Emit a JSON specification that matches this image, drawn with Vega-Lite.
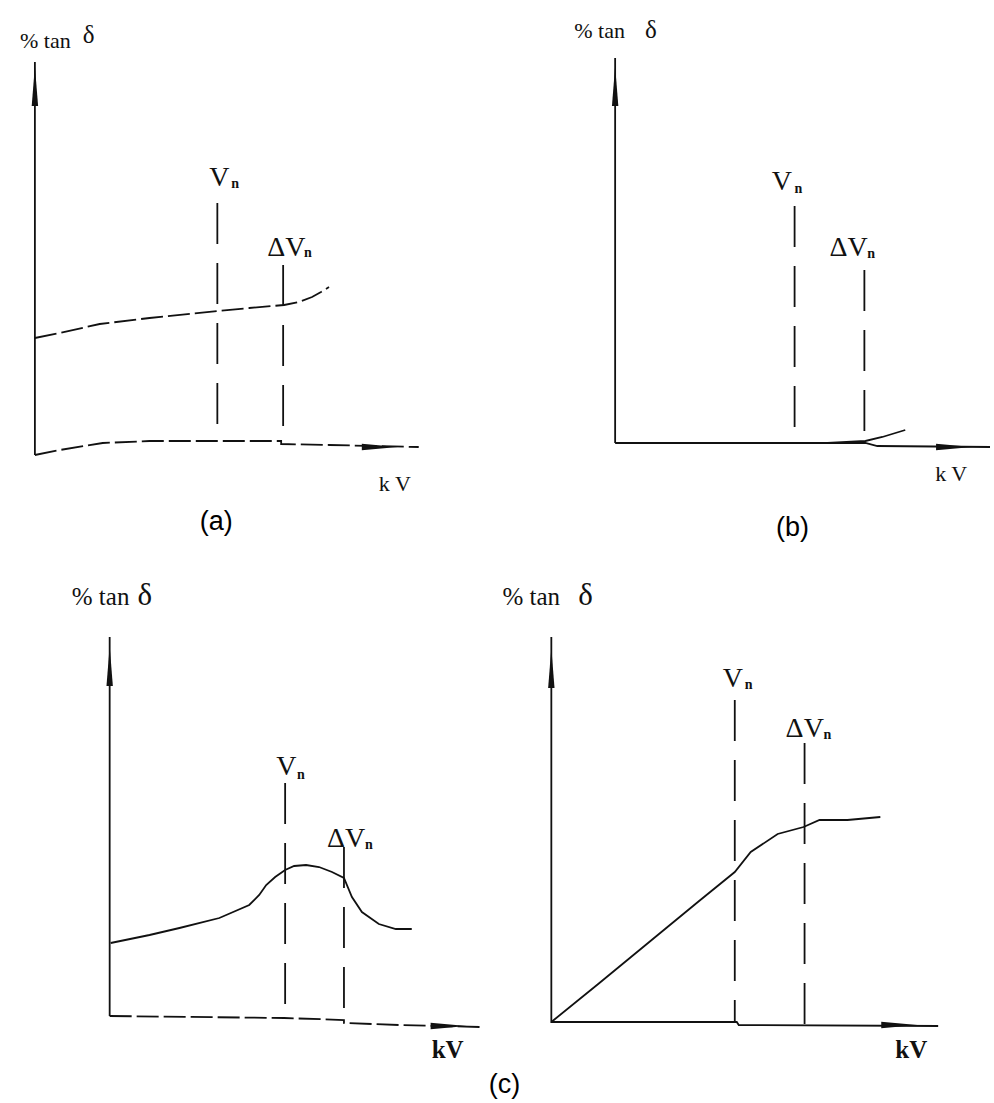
{
  "$schema": "https://vega.github.io/schema/vega-lite/v6.json",
  "width": 994,
  "height": 1103,
  "padding": 0,
  "autosize": {"type": "fit", "contains": "padding"},
  "background": "white",
  "config": {"view": {"stroke": null}},
  "datasets": {
    "paths": [
      {"id": "a-y", "o": 0, "x": 35, "y": 62},
      {"id": "a-y", "o": 1, "x": 35, "y": 455},
      {"id": "a-x", "o": 0, "x": 35, "y": 455},
      {"id": "a-x", "o": 1, "x": 60, "y": 450},
      {"id": "a-x", "o": 2, "x": 103, "y": 443},
      {"id": "a-x", "o": 3, "x": 150, "y": 441},
      {"id": "a-x", "o": 4, "x": 217, "y": 441},
      {"id": "a-x", "o": 5, "x": 282, "y": 441},
      {"id": "a-x", "o": 6, "x": 282, "y": 444},
      {"id": "a-x", "o": 7, "x": 330, "y": 445},
      {"id": "a-x", "o": 8, "x": 420, "y": 447},
      {"id": "a-c", "o": 0, "x": 35, "y": 338},
      {"id": "a-c", "o": 1, "x": 60, "y": 333},
      {"id": "a-c", "o": 2, "x": 100, "y": 324},
      {"id": "a-c", "o": 3, "x": 150, "y": 318},
      {"id": "a-c", "o": 4, "x": 218, "y": 311},
      {"id": "a-c", "o": 5, "x": 250, "y": 308},
      {"id": "a-c", "o": 6, "x": 285, "y": 305},
      {"id": "a-c", "o": 7, "x": 300, "y": 302},
      {"id": "a-c", "o": 8, "x": 313, "y": 297},
      {"id": "a-c", "o": 9, "x": 322, "y": 292},
      {"id": "a-c", "o": 10, "x": 330, "y": 287},
      {"id": "b-y", "o": 0, "x": 617, "y": 58},
      {"id": "b-y", "o": 1, "x": 617, "y": 443},
      {"id": "b-x", "o": 0, "x": 617, "y": 443},
      {"id": "b-x", "o": 1, "x": 868, "y": 443},
      {"id": "b-x", "o": 2, "x": 880, "y": 446},
      {"id": "b-x", "o": 3, "x": 993, "y": 447},
      {"id": "b-c", "o": 0, "x": 830, "y": 443},
      {"id": "b-c", "o": 1, "x": 868, "y": 441},
      {"id": "b-c", "o": 2, "x": 885, "y": 437},
      {"id": "b-c", "o": 3, "x": 908, "y": 430},
      {"id": "cL-y", "o": 0, "x": 110, "y": 637},
      {"id": "cL-y", "o": 1, "x": 110, "y": 1016},
      {"id": "cL-x", "o": 0, "x": 110, "y": 1016},
      {"id": "cL-x", "o": 1, "x": 285, "y": 1018},
      {"id": "cL-x", "o": 2, "x": 345, "y": 1020},
      {"id": "cL-x", "o": 3, "x": 345, "y": 1023},
      {"id": "cL-x", "o": 4, "x": 400, "y": 1025},
      {"id": "cL-x", "o": 5, "x": 481, "y": 1027},
      {"id": "cL-c", "o": 0, "x": 111, "y": 943},
      {"id": "cL-c", "o": 1, "x": 150, "y": 935},
      {"id": "cL-c", "o": 2, "x": 180, "y": 928},
      {"id": "cL-c", "o": 3, "x": 220, "y": 918},
      {"id": "cL-c", "o": 4, "x": 250, "y": 905},
      {"id": "cL-c", "o": 5, "x": 260, "y": 895},
      {"id": "cL-c", "o": 6, "x": 267, "y": 885},
      {"id": "cL-c", "o": 7, "x": 276, "y": 877},
      {"id": "cL-c", "o": 8, "x": 286, "y": 870},
      {"id": "cL-c", "o": 9, "x": 295, "y": 866},
      {"id": "cL-c", "o": 10, "x": 307, "y": 865},
      {"id": "cL-c", "o": 11, "x": 320, "y": 867},
      {"id": "cL-c", "o": 12, "x": 333, "y": 872},
      {"id": "cL-c", "o": 13, "x": 345, "y": 878},
      {"id": "cL-c", "o": 14, "x": 353, "y": 897},
      {"id": "cL-c", "o": 15, "x": 363, "y": 912},
      {"id": "cL-c", "o": 16, "x": 380, "y": 924},
      {"id": "cL-c", "o": 17, "x": 397, "y": 929},
      {"id": "cL-c", "o": 18, "x": 413, "y": 929},
      {"id": "cR-y", "o": 0, "x": 553, "y": 637},
      {"id": "cR-y", "o": 1, "x": 553, "y": 1023},
      {"id": "cR-x", "o": 0, "x": 553, "y": 1022},
      {"id": "cR-x", "o": 1, "x": 739, "y": 1022},
      {"id": "cR-x", "o": 2, "x": 741, "y": 1025},
      {"id": "cR-x", "o": 3, "x": 941, "y": 1026},
      {"id": "cR-c", "o": 0, "x": 553, "y": 1022},
      {"id": "cR-c", "o": 1, "x": 600, "y": 984},
      {"id": "cR-c", "o": 2, "x": 650, "y": 943},
      {"id": "cR-c", "o": 3, "x": 700, "y": 902},
      {"id": "cR-c", "o": 4, "x": 737, "y": 872},
      {"id": "cR-c", "o": 5, "x": 753, "y": 852},
      {"id": "cR-c", "o": 6, "x": 780, "y": 834},
      {"id": "cR-c", "o": 7, "x": 806, "y": 827},
      {"id": "cR-c", "o": 8, "x": 822, "y": 820},
      {"id": "cR-c", "o": 9, "x": 850, "y": 820},
      {"id": "cR-c", "o": 10, "x": 883, "y": 817}
    ],
    "refs": [
      {"panel": "a", "line": "Vn", "x": 218, "y1": 203, "y2": 441},
      {"panel": "a", "line": "ΔVn", "x": 284, "y1": 265, "y2": 442},
      {"panel": "b", "line": "Vn", "x": 797, "y1": 206, "y2": 443},
      {"panel": "b", "line": "ΔVn", "x": 867, "y1": 270, "y2": 443},
      {"panel": "cL", "line": "Vn", "x": 286, "y1": 783, "y2": 1018},
      {"panel": "cL", "line": "ΔVn", "x": 345, "y1": 847, "y2": 1020},
      {"panel": "cR", "line": "Vn", "x": 737, "y1": 700, "y2": 1023},
      {"panel": "cR", "line": "ΔVn", "x": 807, "y1": 743, "y2": 1025}
    ],
    "arrows": [
      {"panel": "a", "dir": "up", "x": 35, "y": 86},
      {"panel": "b", "dir": "up", "x": 617, "y": 86},
      {"panel": "cL", "dir": "up", "x": 110, "y": 666},
      {"panel": "cR", "dir": "up", "x": 553, "y": 668},
      {"panel": "a", "dir": "right", "x": 381, "y": 447},
      {"panel": "b", "dir": "right", "x": 957, "y": 447},
      {"panel": "cL", "dir": "right", "x": 450, "y": 1026},
      {"panel": "cR", "dir": "right", "x": 902, "y": 1025}
    ],
    "labels": [
      {"panel": "a", "kind": "ylab", "text": "% tan", "x": 20, "y": 48},
      {"panel": "a", "kind": "delta", "text": "δ", "x": 83, "y": 43},
      {"panel": "b", "kind": "ylab", "text": "% tan", "x": 576, "y": 38},
      {"panel": "b", "kind": "delta", "text": "δ", "x": 647, "y": 38},
      {"panel": "cL", "kind": "ylab", "text": "% tan", "x": 72, "y": 605},
      {"panel": "cL", "kind": "delta", "text": "δ", "x": 138, "y": 605},
      {"panel": "cR", "kind": "ylab", "text": "% tan", "x": 504, "y": 605},
      {"panel": "cR", "kind": "delta", "text": "δ", "x": 580, "y": 605},
      {"panel": "a", "kind": "V", "text": "V", "x": 210, "y": 186},
      {"panel": "a", "kind": "sub", "text": "n", "x": 232, "y": 188},
      {"panel": "a", "kind": "V", "text": "ΔV", "x": 268, "y": 256},
      {"panel": "a", "kind": "sub", "text": "n", "x": 305, "y": 257},
      {"panel": "b", "kind": "V", "text": "V", "x": 774, "y": 190},
      {"panel": "b", "kind": "sub", "text": "n", "x": 797, "y": 193},
      {"panel": "b", "kind": "V", "text": "ΔV", "x": 832, "y": 256},
      {"panel": "b", "kind": "sub", "text": "n", "x": 870, "y": 258},
      {"panel": "cL", "kind": "V", "text": "V", "x": 277, "y": 775},
      {"panel": "cL", "kind": "sub", "text": "n", "x": 298, "y": 779},
      {"panel": "cL", "kind": "V", "text": "ΔV", "x": 328, "y": 847},
      {"panel": "cL", "kind": "sub", "text": "n", "x": 366, "y": 849},
      {"panel": "cR", "kind": "V", "text": "V", "x": 725, "y": 687},
      {"panel": "cR", "kind": "sub", "text": "n", "x": 747, "y": 689},
      {"panel": "cR", "kind": "V", "text": "ΔV", "x": 788, "y": 737},
      {"panel": "cR", "kind": "sub", "text": "n", "x": 826, "y": 739},
      {"panel": "a", "kind": "kV", "text": "k V", "x": 380, "y": 491},
      {"panel": "b", "kind": "kV", "text": "k V", "x": 938, "y": 481},
      {"panel": "cL", "kind": "kVb", "text": "kV", "x": 433, "y": 1058},
      {"panel": "cR", "kind": "kVb", "text": "kV", "x": 898, "y": 1058},
      {"panel": "a", "kind": "panel", "text": "(a)", "x": 217, "y": 522},
      {"panel": "b", "kind": "panel", "text": "(b)", "x": 795, "y": 528},
      {"panel": "c", "kind": "panel", "text": "(c)", "x": 506, "y": 1085}
    ]
  },
  "layer": [
    {
      "data": {"name": "paths"},
      "transform": [{"filter": {"not": {"field": "id", "oneOf": ["a-x", "a-c", "cL-x"]}}}],
      "mark": {"type": "line", "color": "#111", "strokeWidth": 1.8},
      "encoding": {
        "x": {"field": "x", "type": "quantitative", "scale": {"domain": [0, 994], "nice": false, "zero": false}, "axis": null},
        "y": {"field": "y", "type": "quantitative", "scale": {"domain": [0, 1103], "nice": false, "zero": false, "reverse": true}, "axis": null},
        "detail": {"field": "id"},
        "order": {"field": "o", "type": "quantitative"}
      }
    },
    {
      "data": {"name": "paths"},
      "transform": [{"filter": {"field": "id", "oneOf": ["a-x", "a-c", "cL-x"]}}],
      "mark": {"type": "line", "color": "#111", "strokeWidth": 1.8, "strokeDash": [22, 5]},
      "encoding": {
        "x": {"field": "x", "type": "quantitative"},
        "y": {"field": "y", "type": "quantitative"},
        "detail": {"field": "id"},
        "order": {"field": "o", "type": "quantitative"}
      }
    },
    {
      "data": {"name": "refs"},
      "mark": {"type": "rule", "color": "#111", "strokeWidth": 1.8, "strokeDash": [41, 19]},
      "encoding": {
        "x": {"field": "x", "type": "quantitative"},
        "y": {"field": "y1", "type": "quantitative"},
        "y2": {"field": "y2"}
      }
    },
    {
      "data": {"name": "arrows"},
      "transform": [{"filter": {"field": "dir", "equal": "up"}}],
      "mark": {"type": "point", "filled": true, "color": "#111", "opacity": 1, "size": 1600, "shape": "M0,-1L0.16,1L-0.16,1Z"},
      "encoding": {
        "x": {"field": "x", "type": "quantitative"},
        "y": {"field": "y", "type": "quantitative"}
      }
    },
    {
      "data": {"name": "arrows"},
      "transform": [{"filter": {"field": "dir", "equal": "right"}}],
      "mark": {"type": "point", "filled": true, "color": "#111", "opacity": 1, "size": 1300, "shape": "M1,0L-1,-0.18L-1,0.18Z"},
      "encoding": {
        "x": {"field": "x", "type": "quantitative"},
        "y": {"field": "y", "type": "quantitative"}
      }
    },
    {
      "data": {"name": "labels"},
      "transform": [{"filter": {"and": [{"field": "kind", "equal": "ylab"}, {"field": "panel", "oneOf": ["a", "b"]}]}}],
      "mark": {"type": "text", "font": "Liberation Serif", "fontSize": 22, "color": "#111", "align": "left", "baseline": "alphabetic"},
      "encoding": {
        "x": {"field": "x", "type": "quantitative"},
        "y": {"field": "y", "type": "quantitative"},
        "text": {"field": "text"}
      }
    },
    {
      "data": {"name": "labels"},
      "transform": [{"filter": {"and": [{"field": "kind", "equal": "ylab"}, {"field": "panel", "oneOf": ["cL", "cR"]}]}}],
      "mark": {"type": "text", "font": "Liberation Serif", "fontSize": 25, "color": "#111", "align": "left", "baseline": "alphabetic"},
      "encoding": {
        "x": {"field": "x", "type": "quantitative"},
        "y": {"field": "y", "type": "quantitative"},
        "text": {"field": "text"}
      }
    },
    {
      "data": {"name": "labels"},
      "transform": [{"filter": {"and": [{"field": "kind", "equal": "delta"}, {"field": "panel", "oneOf": ["a", "b"]}]}}],
      "mark": {"type": "text", "font": "Liberation Serif", "fontSize": 25, "color": "#111", "align": "left", "baseline": "alphabetic"},
      "encoding": {
        "x": {"field": "x", "type": "quantitative"},
        "y": {"field": "y", "type": "quantitative"},
        "text": {"field": "text"}
      }
    },
    {
      "data": {"name": "labels"},
      "transform": [{"filter": {"and": [{"field": "kind", "equal": "delta"}, {"field": "panel", "oneOf": ["cL", "cR"]}]}}],
      "mark": {"type": "text", "font": "Liberation Serif", "fontSize": 31, "color": "#111", "align": "left", "baseline": "alphabetic"},
      "encoding": {
        "x": {"field": "x", "type": "quantitative"},
        "y": {"field": "y", "type": "quantitative"},
        "text": {"field": "text"}
      }
    },
    {
      "data": {"name": "labels"},
      "transform": [{"filter": {"field": "kind", "equal": "V"}}],
      "mark": {"type": "text", "font": "Liberation Serif", "fontSize": 28, "color": "#111", "align": "left", "baseline": "alphabetic"},
      "encoding": {
        "x": {"field": "x", "type": "quantitative"},
        "y": {"field": "y", "type": "quantitative"},
        "text": {"field": "text"}
      }
    },
    {
      "data": {"name": "labels"},
      "transform": [{"filter": {"field": "kind", "equal": "sub"}}],
      "mark": {"type": "text", "font": "Liberation Serif", "fontSize": 14, "fontWeight": "bold", "color": "#111", "align": "left", "baseline": "alphabetic"},
      "encoding": {
        "x": {"field": "x", "type": "quantitative"},
        "y": {"field": "y", "type": "quantitative"},
        "text": {"field": "text"}
      }
    },
    {
      "data": {"name": "labels"},
      "transform": [{"filter": {"field": "kind", "equal": "kV"}}],
      "mark": {"type": "text", "font": "Liberation Serif", "fontSize": 22, "color": "#111", "align": "left", "baseline": "alphabetic"},
      "encoding": {
        "x": {"field": "x", "type": "quantitative"},
        "y": {"field": "y", "type": "quantitative"},
        "text": {"field": "text"}
      }
    },
    {
      "data": {"name": "labels"},
      "transform": [{"filter": {"field": "kind", "equal": "kVb"}}],
      "mark": {"type": "text", "font": "Liberation Serif", "fontSize": 25, "fontWeight": "bold", "color": "#111", "align": "left", "baseline": "alphabetic"},
      "encoding": {
        "x": {"field": "x", "type": "quantitative"},
        "y": {"field": "y", "type": "quantitative"},
        "text": {"field": "text"}
      }
    },
    {
      "data": {"name": "labels"},
      "transform": [{"filter": {"field": "kind", "equal": "panel"}}],
      "mark": {"type": "text", "font": "Liberation Sans", "fontSize": 27, "color": "#000", "align": "center", "baseline": "middle"},
      "encoding": {
        "x": {"field": "x", "type": "quantitative"},
        "y": {"field": "y", "type": "quantitative"},
        "text": {"field": "text"}
      }
    }
  ]
}
